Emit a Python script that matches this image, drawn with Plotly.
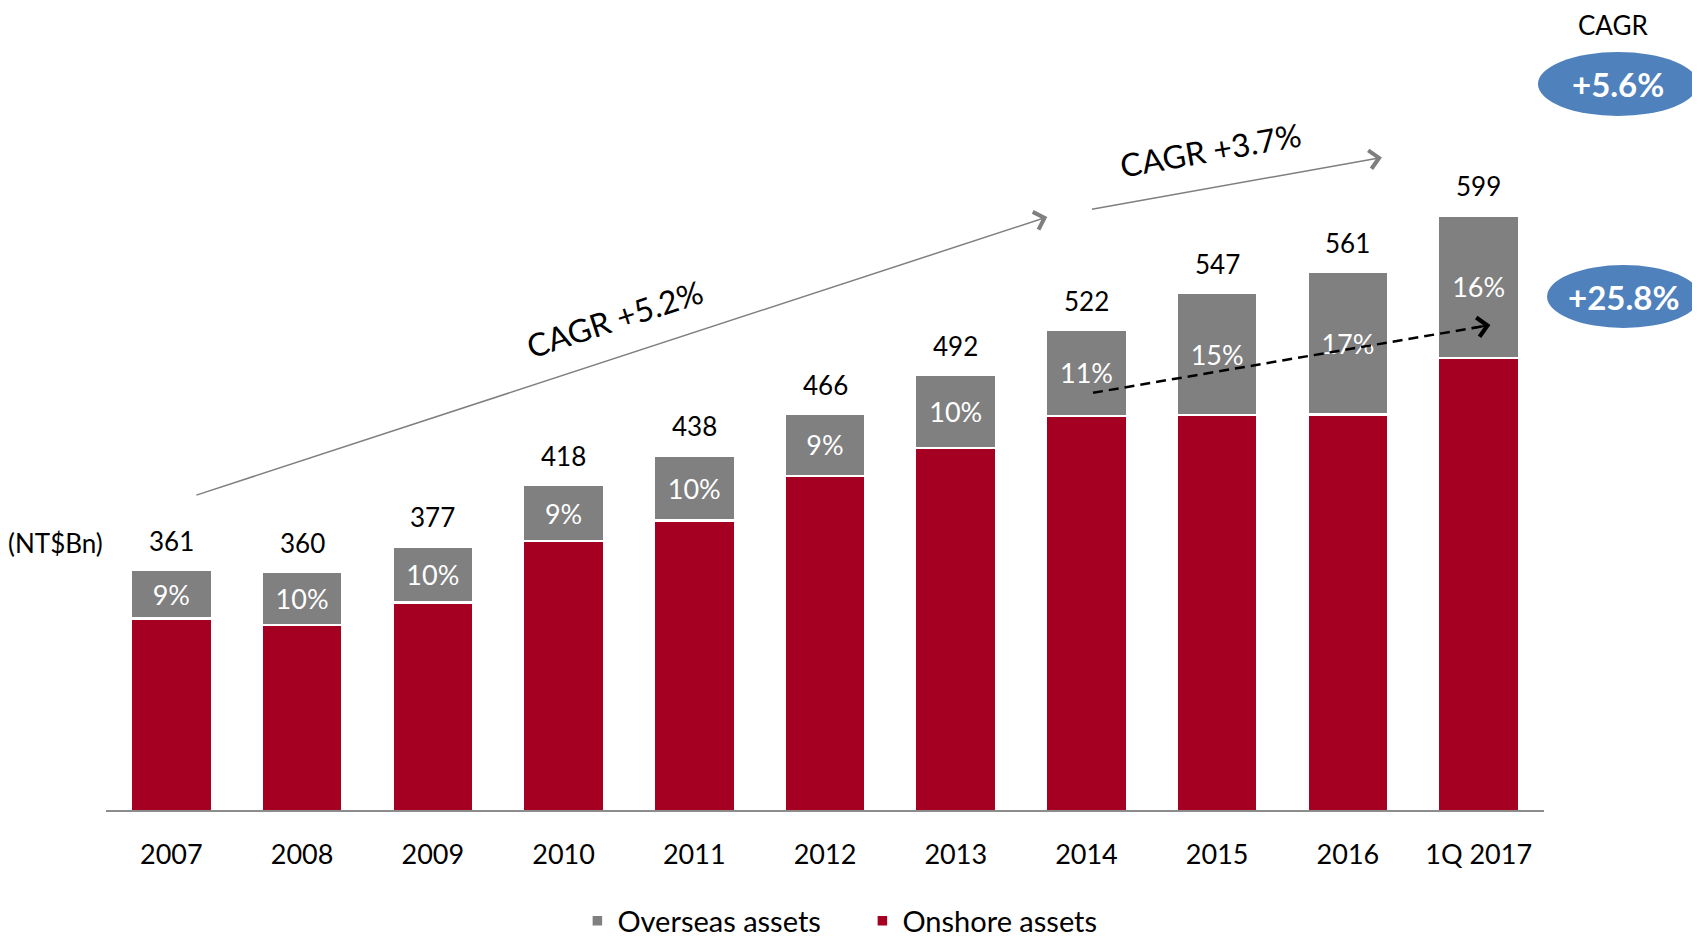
import plotly.graph_objects as go

# ---------------------------- data ----------------------------
years = ["2007", "2008", "2009", "2010", "2011", "2012",
         "2013", "2014", "2015", "2016", "1Q 2017"]
total = [361, 360, 377, 418, 438, 466, 492, 522, 547, 561, 599]
overseas_pct = [9, 10, 10, 9, 10, 9, 10, 11, 15, 17, 16]
onshore = [328.5, 324.0, 339.3, 380.4, 394.2, 424.1, 442.8, 464.6, 465.0, 465.6, 503.2]
overseas = [32.5, 36.0, 37.7, 37.6, 43.8, 41.9, 49.2, 57.4, 82.0, 95.4, 95.8]

red = "#A50021"
gray = "#808080"
blue = "#4F81BD"
font = "Lato, 'Open Sans', sans-serif"

fig = go.Figure()

fig.add_trace(go.Bar(
    x=years, y=onshore, name="Onshore assets",
    marker={"color": red, "line": {"color": "white", "width": 2.5}},
))
fig.add_trace(go.Bar(
    x=years, y=overseas, name="Overseas assets",
    marker={"color": gray, "line": {"color": "white", "width": 2.5}},
    text=[f"{p}%" for p in overseas_pct],
    textposition="inside", insidetextanchor="middle", textangle=0,
    constraintext="none",
    textfont={"color": "white", "size": 27, "family": font},
))

# totals above the bars
annotations = []
for i, t in enumerate(total):
    annotations.append(dict(
        x=i, y=t, xref="x", yref="y", text=str(t), showarrow=False,
        yshift=29, font={"size": 26, "color": "black", "family": font},
    ))

# CAGR arrows (data coords: category index, value)
arrow_common = dict(xref="x", yref="y", text="", showarrow=True,
                    arrowhead=4, standoff=0, startstandoff=0)
annotations += [
    dict(x=6.70, y=598, ax=0.18, ay=411, axref="x", ayref="y",
         arrowcolor="#7f7f7f", arrowwidth=1.5, arrowsize=2.4, **arrow_common),
    dict(x=9.26, y=638, ax=7.03, ay=603, axref="x", ayref="y",
         arrowcolor="#7f7f7f", arrowwidth=1.5, arrowsize=2.4, **arrow_common),
    # head of the dashed arrow (the dashed body is a shape)
    dict(x=10.09, y=525.5, ax=-20, ay=3.4, axref="pixel", ayref="pixel",
         arrowcolor="black", arrowwidth=2.2, arrowsize=1.7, **arrow_common),
]

def note(x, y, text, size, color="black", **kw):
    d = dict(x=x, y=y, xref="paper", yref="paper", text=text, showarrow=False,
             xanchor="center", yanchor="middle",
             font={"size": size, "color": color, "family": font})
    d.update(kw)
    return d

annotations += [
    dict(x=3.39, y=530, xref="x", yref="y", text="CAGR +5.2%", showarrow=False,
         textangle=-18, font={"size": 32, "color": "black", "family": font}),
    dict(x=7.95, y=643.5, xref="x", yref="y", text="CAGR +3.7%", showarrow=False,
         textangle=-10, font={"size": 32, "color": "black", "family": font}),
    note(1.048, 1.054, "CAGR", 26),
    note(1.0515, 0.9745, "<b>+5.6%</b>", 33, "white"),
    note(1.0556, 0.6886, "<b>+25.8%</b>", 33, "white"),
    note(-0.0695, 0.358, "(NT$Bn)", 26, xanchor="left"),
]

shapes = [
    dict(type="line", xref="x", yref="y", x0=7.05, y0=480, x1=10.05, y1=524.9,
         line={"color": "black", "width": 2.5, "dash": "10px,6px"}),
    dict(type="circle", xref="paper", yref="paper", x0=0.9958, x1=1.1071,
         y0=0.9315, y1=1.0174, fillcolor=blue, line={"width": 0}, layer="below"),
    dict(type="circle", xref="paper", yref="paper", x0=1.0021, x1=1.1085,
         y0=0.6470, y1=0.7315, fillcolor=blue, line={"width": 0}, layer="below"),
]

# page body has an 8px margin, so the figure is 8px smaller than the window
fig.update_layout(
    width=1692, height=929,
    margin={"l": 98, "r": 156, "t": 57, "b": 127, "autoexpand": False},
    barmode="stack", bargap=0.38,
    paper_bgcolor="white", plot_bgcolor="white",
    font={"family": font, "color": "black"},
    annotations=annotations, shapes=shapes,
    legend={"orientation": "h", "x": 0.526, "xanchor": "center",
            "y": -0.149, "yanchor": "middle", "traceorder": "reversed",
            "entrywidth": 240,
            "font": {"size": 29, "family": font}},
    xaxis={"type": "category", "showline": True, "linecolor": "#8c8c8c",
           "linewidth": 2, "ticks": "", "ticklabelstandoff": 20,
           "tickfont": {"size": 27, "family": font}, "showgrid": False},
    yaxis={"range": [200, 700], "visible": False, "showgrid": False,
           "zeroline": False},
)

fig.write_html("out.html")
